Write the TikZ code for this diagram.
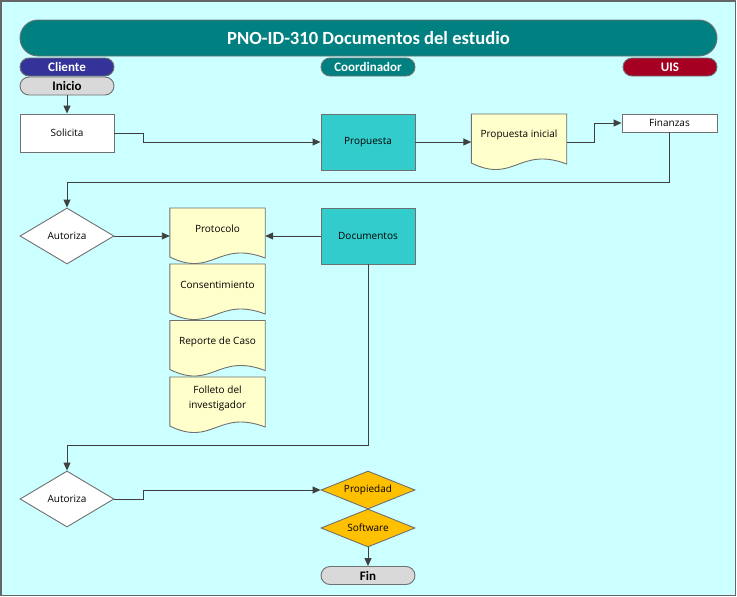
\documentclass[tikz,border=0pt]{standalone}
\usepackage{fontspec}
\setmainfont{Open Sans}
\newfontfamily\hfont{Carlito}
\usetikzlibrary{shapes.geometric,arrows.meta,calc,backgrounds}
\definecolor{bgc}{HTML}{CCFFFF}
\definecolor{tealc}{HTML}{008080}
\definecolor{clic}{HTML}{333399}
\definecolor{uisc}{HTML}{A50021}
\definecolor{greyc}{HTML}{D9D9D9}
\definecolor{procc}{HTML}{33CCCC}
\definecolor{docc}{HTML}{FFFFCC}
\definecolor{goldc}{HTML}{FFC000}
\definecolor{edgec}{HTML}{707070}
\definecolor{linec}{HTML}{404040}
\tikzset{
  x=1pt, y=-1pt,
  base/.style={inner sep=0pt, draw=edgec, line width=0.9pt, font=\fontsize{10}{12}\selectfont, text=black},
  lane/.style={base, rounded corners=9pt, minimum width=94pt, minimum height=18pt, text=white, font=\hfont\bfseries\fontsize{13}{14}\selectfont},
  term/.style={base, rounded corners=9pt, minimum width=94pt, minimum height=18pt, fill=greyc, font=\hfont\bfseries\fontsize{13}{14}\selectfont},
  plainbox/.style={base, fill=white, minimum width=94pt},
  procbox/.style={base, fill=procc, minimum width=94pt, minimum height=56pt},
  decision/.style={base, diamond, aspect=1.68, fill=white, minimum width=94pt, minimum height=56pt},
  golddec/.style={base, diamond, aspect=2.47, fill=goldc, minimum width=94pt, minimum height=38pt},
  docnode/.style={inner sep=0pt, minimum width=95pt, minimum height=42pt, anchor=north, align=center, font=\fontsize{10}{15}\selectfont},
  conn/.style={draw=linec, line width=0.9pt, -{Triangle[length=8pt,width=7pt]}}
}
\newcommand{\docshape}[1]{%
  \draw[draw=edgec, line width=0.9pt, fill=docc]
    (#1.north west) -- (#1.north east) -- ($(#1.north east)+(0,50)$)
    .. controls ($(#1.north west)!0.5!(#1.north east)+(0,32)$) and ($(#1.north west)!0.45!(#1.north east)+(0,70)$) ..
    ($(#1.north west)+(0,49)$) -- cycle;}
\begin{document}
\begin{tikzpicture}
\useasboundingbox (0,0) rectangle (737,597);

% title and lanes
\node[base, rounded corners=18pt, fill=tealc, minimum width=697pt, minimum height=36pt, text=white, font=\hfont\bfseries\fontsize{18.6}{20}\selectfont] (title) at (368.5,38) {PNO-ID-310 Documentos del estudio};
\node[lane, fill=clic] (cliente) at (67,67) {Cliente};
\node[lane, fill=tealc] (coord) at (368,67) {Coordinador};
\node[lane, fill=uisc] (uis) at (670,67) {UIS};

% nodes
\node[term] (inicio) at (67,86) {Inicio};
\node[plainbox, minimum height=38pt] (sol) at (67,133) {Solicita};
\node[procbox] (prop) at (368,142) {Propuesta};
\node[docnode] (pini) at (519,114) {Propuesta inicial};
\node[plainbox, minimum height=18pt, minimum width=95pt] (fin) at (669.5,123) {Finanzas};
\node[decision] (aut1) at (67,236) {Autoriza};
\node[docnode] (proto) at (217.5,208) {Protocolo};
\node[procbox] (docs) at (368,236) {Documentos};
\node[docnode] (cons) at (217.5,264) {Consentimiento};
\node[docnode] (rep) at (217.5,320.5) {Reporte de Caso};
\node[docnode] (foll) at (217.5,377) {Folleto del\\investigador};
\node[decision] (aut2) at (67,499) {Autoriza};
\node[golddec] (propd) at (368,490) {Propiedad};
\node[golddec] (soft) at (368,528) {Software};
\node[term] (fint) at (368,575.5) {Fin};

% background and document shapes
\begin{scope}[on background layer]
\draw[fill=bgc, draw=gray!80!black, line width=1.2pt] (1,1) rectangle (735.5,595.5);
\docshape{pini}\docshape{proto}\docshape{cons}\docshape{rep}\docshape{foll}
\end{scope}

% connectors
\draw[conn] (inicio.south) -- (sol.north);
\draw[conn] (sol.east) -- ++(29,0) |- (prop.west);
\draw[conn] (prop.east) -- (prop.east -| pini.west);
\draw[conn] (prop.east -| pini.east) -- ++(28,0) |- (fin.west);
\draw[conn] (fin.south) -- ++(0,50) -| (aut1.north);
\draw[conn] (aut1.east) -- (aut1.east -| proto.west);
\draw[conn] (docs.west) -- (docs.west -| proto.east);
\draw[conn] (docs.south) -- ++(0,181) -| (aut2.north);
\draw[conn] (aut2.east) -- ++(29,0) |- (propd.west);
\draw[conn] (soft.south) -- (fint.north);
\end{tikzpicture}
\end{document}
